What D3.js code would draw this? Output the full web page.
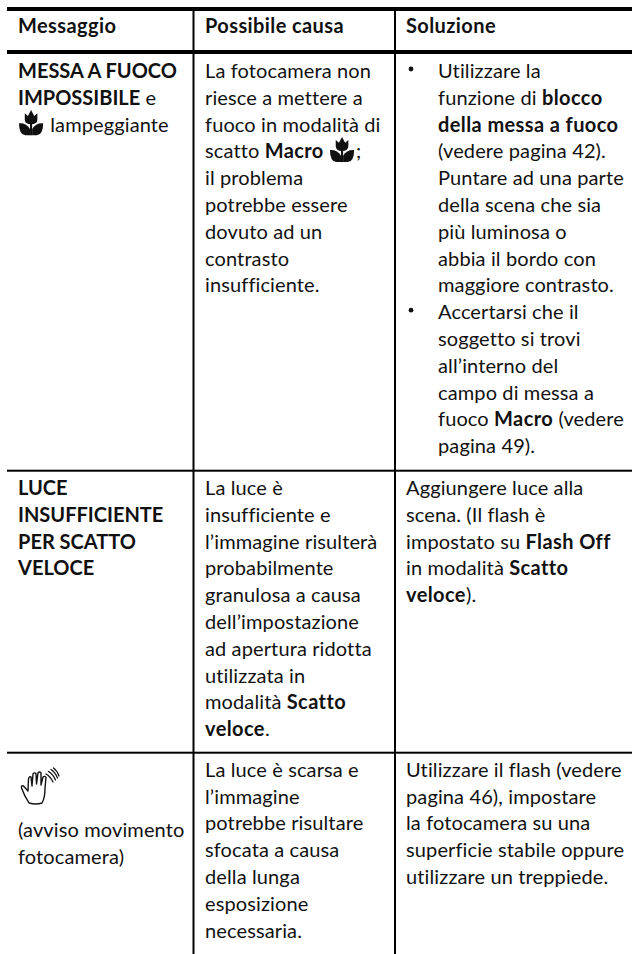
<!DOCTYPE html>
<html>
<head>
<meta charset="utf-8">
<script src="https://cdn.jsdelivr.net/npm/d3@7"></script>
<style>
html, body { margin: 0; padding: 0; background: #fff; }
svg { display: block; }
text { font-family: "Lato", sans-serif; font-size: 20px; letter-spacing: 0.12px; fill: #111; white-space: pre; }
text.b { font-weight: 700; letter-spacing: 0.4px; }
text.caps { letter-spacing: 0; }
</style>
</head>
<body>
<div id="chart"></div>
<script>
'use strict';

// **x** = bold, {macro} = tulip icon
var headers = ["Messaggio", "Possibile causa", "Soluzione"];

var col1 = [
    ["**MESSA A FUOCO**", "**IMPOSSIBILE** e", "{macro} lampeggiante"],
    ["**LUCE**", "**INSUFFICIENTE**", "**PER SCATTO**", "**VELOCE**"],
    []
];
var col1Note = ["(avviso movimento", "fotocamera)"];

var col2 = [
    ["La fotocamera non", "riesce a mettere a", "fuoco in modalità di", "scatto **Macro** {macro};",
     "il problema", "potrebbe essere", "dovuto ad un", "contrasto", "insufficiente."],
    ["La luce è", "insufficiente e", "l’immagine risulterà", "probabilmente", "granulosa a causa",
     "dell’impostazione", "ad apertura ridotta", "utilizzata in", "modalità **Scatto**", "**veloce**."],
    ["La luce è scarsa e", "l’immagine", "potrebbe risultare", "sfocata a causa", "della lunga",
     "esposizione", "necessaria."]
];

var bullet1 = ["Utilizzare la", "funzione di **blocco**", "**della messa a fuoco**", "(vedere pagina 42).",
    "Puntare ad una parte", "della scena che sia", "più luminosa o", "abbia il bordo con", "maggiore contrasto."];
var bullet2 = ["Accertarsi che il", "soggetto si trovi", "all’interno del", "campo di messa a",
    "fuoco **Macro** (vedere", "pagina 49)."];

var col3 = [
    [],
    ["Aggiungere luce alla", "scena. (Il flash è", "impostato su **Flash Off**", "in modalità **Scatto**", "**veloce**)."],
    ["Utilizzare il flash (vedere", "pagina 46), impostare", "la fotocamera su una", "superficie stabile oppure", "utilizzare un treppiede."]
];

var width = 632, height = 954;
var left = 7;
var colLines = [193.5, 395];
var colText = [18, 205, 406];
var bulletIndent = 438;
var rowRules = [470.7, 752.7];
var rowBase = [78, 495, 776.7];
var lineStep = 26.8;

var line = d3.scaleLinear().domain([0, 1]).range([0, lineStep]);

var svg = d3.select("#chart").append("svg")
    .attr("width", width)
    .attr("height", height);

// rules
function hRule(y, w) {
    svg.append("rect").attr("x", left).attr("y", y - w / 2)
        .attr("width", width - left).attr("height", w).attr("fill", "#000");
}
hRule(9, 4);
hRule(52, 4);
rowRules.forEach(function(y) { hRule(y, 2); });
colLines.forEach(function(x) {
    svg.append("rect").attr("x", x - 1).attr("y", 9)
        .attr("width", 2).attr("height", height - 9).attr("fill", "#000");
});

function tulip(x, y, s) {
    var g = svg.append("g")
        .attr("transform", "translate(" + x + "," + y + ") scale(" + s + ")");
    g.append("path").attr("fill", "#111")
        .attr("d", "M5.5 3 L8.5 5.5 L11.5 0 L14.5 5.5 L17.5 3 L17.5 9 Q17.5 13.5 11.5 13.5 Q5.5 13.5 5.5 9 Z");
    g.append("path").attr("fill", "#111")
        .attr("d", "M0 12.5 Q7 12 10.5 18 L10.5 24 L6 24 Q0 23.5 0 12.5 Z");
    g.append("path").attr("fill", "#111")
        .attr("d", "M23 12.5 Q16 12 12.5 18 L12.5 24 L17 24 Q23 23.5 23 12.5 Z");
    g.append("rect").attr("x", 10.5).attr("y", 13).attr("width", 2).attr("height", 11).attr("fill", "#111");
}

function hand(x, y) {
    var g = svg.append("g")
        .attr("transform", "translate(" + x + "," + y + ")")
        .attr("fill", "none").attr("stroke", "#111").attr("stroke-width", 1.4)
        .attr("stroke-linejoin", "round").attr("stroke-linecap", "round");
    g.append("path").attr("d",
        "M8 35 Q3 27 0.5 20 Q0 17 2.5 18 L7 23 L7.5 11 Q8 8 10 9 L11 18 L12 6 Q13 4 15 5.5 L15.5 16 L17 5 Q18.5 3 20 5 L20 17 " +
        "L22 9 Q24 7.5 25 9.5 L24 20 Q24 30 21 35 Q15 37 8 35 Z");
    // shake marks
    g.append("path").attr("stroke-width", 1.3).attr("d",
        "M25 6 Q29 8 32 14 M27.5 3.5 Q32 6 34.5 12 M30 1.5 Q34 4 36.5 10 M32.5 0 Q36 2.5 38 8");
}

// lay a line out run by run so bold and icons sit one after the other
function drawLine(str, x, y) {
    var cur = x;
    str.split(/(\*\*[^*]+\*\*|\{macro\})/).filter(function(s) { return s !== ""; }).forEach(function(run) {
        if (run === "{macro}") {
            tulip(cur + 1, y - 21.5, 1.05);
            cur += 27;
            return;
        }
        var bold = run.indexOf("**") === 0;
        var txt = bold ? run.slice(2, -2) : run;
        var t = svg.append("text")
            .attr("class", bold ? (txt === txt.toUpperCase() ? "b caps" : "b") : null)
            .attr("x", cur).attr("y", y)
            .text(txt);
        cur += t.node().getComputedTextLength();
    });
}

function drawCell(lines, x, y0) {
    lines.forEach(function(s, i) { drawLine(s, x, y0 + line(i)); });
}

headers.forEach(function(h, i) { drawLine("**" + h + "**", colText[i], 33); });

rowBase.forEach(function(y, r) {
    drawCell(col1[r], colText[0], y);
    drawCell(col2[r], colText[1], y);
    drawCell(col3[r], colText[2], y);
});

drawCell(col1Note, colText[0], 836.7);
hand(21, 768);

// bullet list of the first row
drawCell(bullet1, bulletIndent, rowBase[0]);
drawCell(bullet2, bulletIndent, rowBase[0] + line(bullet1.length));
[0, bullet1.length].forEach(function(n) {
    svg.append("circle").attr("cx", 411).attr("cy", rowBase[0] + line(n) - 9)
        .attr("r", 2.4).attr("fill", "#111");
});
</script>
</body>
</html>
